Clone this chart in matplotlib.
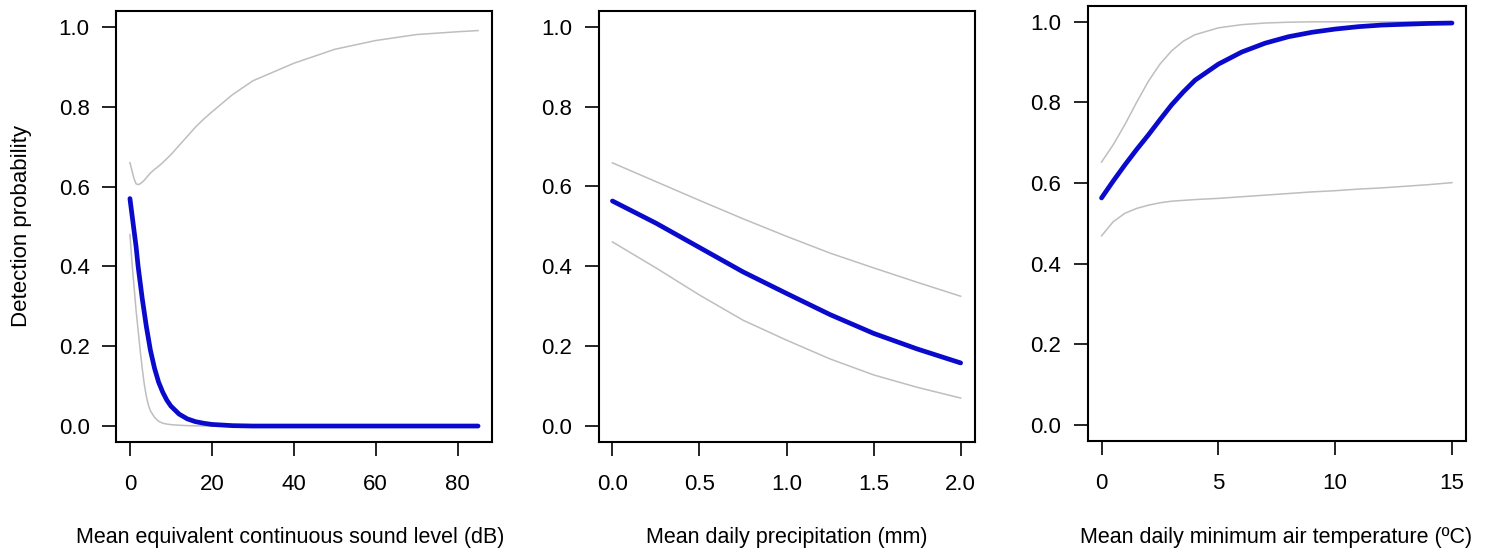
import matplotlib
matplotlib.use("Agg")
import matplotlib.pyplot as plt

plt.rcParams['font.family'] = ['Liberation Sans', 'DejaVu Sans']

# panel 1: sound level
sound_x = [0, 0.5, 1, 1.5, 2, 2.5, 3, 3.5, 4, 4.5, 5, 6, 7, 8, 9, 10, 12, 14,
           16, 18, 20, 25, 30, 40, 50, 60, 70, 80, 85]
sound_mean = [0.57, 0.53, 0.49, 0.45, 0.40, 0.36, 0.32, 0.285, 0.25, 0.22, 0.19,
              0.145, 0.11, 0.085, 0.065, 0.05, 0.03, 0.018, 0.011, 0.007, 0.004,
              0.001, 0, 0, 0, 0, 0, 0, 0]
sound_upper = [0.66, 0.64, 0.62, 0.607, 0.605, 0.607, 0.611, 0.616, 0.622, 0.628,
               0.634, 0.643, 0.651, 0.66, 0.67, 0.68, 0.703, 0.726, 0.749, 0.769,
               0.787, 0.83, 0.865, 0.909, 0.944, 0.966, 0.981, 0.988, 0.991]
sound_lower = [0.48, 0.41, 0.35, 0.29, 0.24, 0.19, 0.145, 0.105, 0.075, 0.053,
               0.038, 0.022, 0.012, 0.007, 0.005, 0.0035, 0.002, 0.001, 0.0005,
               0.0002, 0, 0, 0, 0, 0, 0, 0, 0, 0]

# panel 2: precipitation
prec_x = [0, 0.25, 0.5, 0.75, 1.0, 1.25, 1.5, 1.75, 2.0]
prec_mean = [0.5635, 0.508, 0.447, 0.386, 0.332, 0.279, 0.232, 0.193, 0.158]
prec_upper = [0.659, 0.612, 0.565, 0.519, 0.475, 0.433, 0.396, 0.36, 0.325]
prec_lower = [0.461, 0.396, 0.328, 0.265, 0.215, 0.168, 0.128, 0.097, 0.07]

# panel 3: minimum temperature
temp_x = [0, 0.5, 1, 1.5, 2, 2.5, 3, 3.5, 4, 5, 6, 7, 8, 9, 10, 11, 12, 13, 14, 15]
temp_mean = [0.563, 0.605, 0.645, 0.683, 0.719, 0.757, 0.794, 0.826, 0.855, 0.895,
             0.925, 0.947, 0.963, 0.974, 0.982, 0.988, 0.992, 0.994, 0.996, 0.997]
temp_upper = [0.652, 0.695, 0.745, 0.80, 0.852, 0.895, 0.928, 0.952, 0.968, 0.985,
              0.993, 0.997, 0.999, 1.0, 1.0, 1.0, 1.0, 1.0, 1.0, 1.0]
temp_lower = [0.469, 0.504, 0.525, 0.537, 0.545, 0.551, 0.555, 0.557, 0.559, 0.562,
              0.566, 0.57, 0.574, 0.578, 0.581, 0.585, 0.588, 0.592, 0.596, 0.601]

y_ticks = [0.0, 0.2, 0.4, 0.6, 0.8, 1.0]

panels = [
    (sound_x, sound_mean, sound_upper, sound_lower, [0, 20, 40, 60, 80],
     ["0", "20", "40", "60", "80"], "Mean equivalent continuous sound level (dB)"),
    (prec_x, prec_mean, prec_upper, prec_lower, [0, 0.5, 1.0, 1.5, 2.0],
     ["0.0", "0.5", "1.0", "1.5", "2.0"], "Mean daily precipitation (mm)"),
    (temp_x, temp_mean, temp_upper, temp_lower, [0, 5, 10, 15],
     ["0", "5", "10", "15"], "Mean daily minimum air temperature (\u00baC)"),
]

W, H = 1491, 552
boxes = [(116, 11, 492, 442), (598.5, 10.7, 974.6, 442), (1087.5, 5.7, 1466, 441)]
label_x = [290, 786.5, 1276]

fig = plt.figure(figsize=(W / 100, H / 100), dpi=100)

for i, (x, m, up, lo, xt, xtl, xlab) in enumerate(panels):
    l, t, r, b = boxes[i]
    ax = fig.add_axes([l / W, 1 - b / H, (r - l) / W, (b - t) / H])
    ax.plot(x, up, color="#bebebe", lw=1.1)
    ax.plot(x, lo, color="#bebebe", lw=1.1)
    ax.plot(x, m, color="#0a0acd", lw=3.4, solid_capstyle="round")
    pad = (x[-1] - x[0]) * 0.04
    ax.set_xlim(x[0] - pad, x[-1] + pad)
    ax.set_ylim(-0.04, 1.04)
    ax.set_xticks(xt)
    ax.set_xticklabels(xtl)
    ax.set_yticks(y_ticks)
    ax.set_yticklabels(["%.1f" % v for v in y_ticks])
    ax.tick_params(axis="both", direction="out", length=10, width=1.2,
                   labelsize=16, color="black")
    ax.tick_params(axis="x", pad=13)
    ax.tick_params(axis="y", pad=9)
    for s in ax.spines.values():
        s.set_linewidth(1.5)
    ax.set_xlabel(xlab, fontsize=15.5)
    ax.xaxis.set_label_coords((label_x[i] - l) / (r - l), (b - 537) / (b - t))
    ax.xaxis.label.set_va("center")
    if i == 0:
        ax.set_ylabel("Detection probability", fontsize=16)
        ax.yaxis.set_label_coords((22 - l) / (r - l), (b - 226) / (b - t))
        ax.yaxis.label.set_va("center")

fig.savefig("out.png", dpi=100)
